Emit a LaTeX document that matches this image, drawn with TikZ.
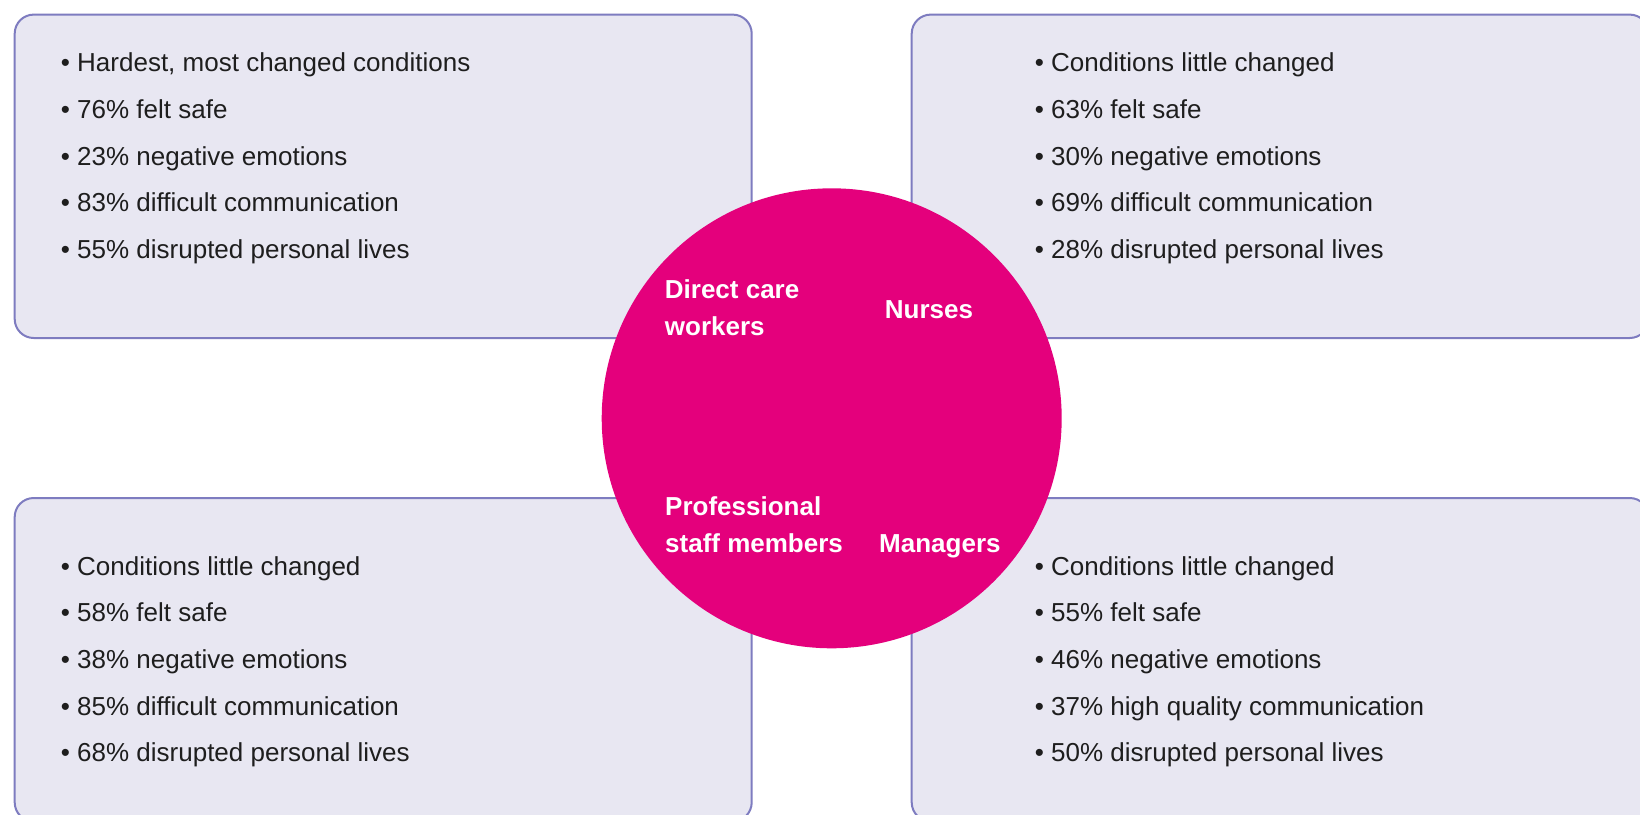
\documentclass[tikz,border=0pt]{standalone}
\usepackage{fontspec}
\setmainfont{Liberation Sans}
\definecolor{panelfill}{RGB}{232,231,242}
\definecolor{panelline}{RGB}{126,124,192}
\definecolor{hubfill}{RGB}{228,0,124}
\definecolor{ink}{RGB}{30,30,30}
\begin{document}
\begin{tikzpicture}[x=1pt,y=-1pt,
  panel/.style={draw=panelline, line width=2pt, fill=panelfill,
    rounded corners=19pt, minimum width=737pt, minimum height=323.4pt, inner sep=0pt},
  hub/.style={circle, fill=hubfill, minimum size=460pt, inner sep=0pt},
  facts/.style={anchor=base west, inner sep=0pt, text=ink,
    font=\fontsize{26}{46.67}\selectfont},
  role/.style={anchor=base west, inner sep=0pt, text=white,
    font=\fontsize{26}{37}\selectfont\bfseries}]
\useasboundingbox (0,0) rectangle (1640,814);
\fill[white] (0,0) rectangle (1640,814);
\clip (0,0) rectangle (1640,814);

% four panels around the centre
\node[panel] (ptl) at (383.2,176.3) {};
\node[panel] (ptr) at (1280.2,176.3) {};
\node[panel] (pbl) at (383.2,659.7) {};
\node[panel] (pbr) at (1280.2,659.7) {};

% centre disc
\node[hub] (hub) at (831.7,418.3) {};

% staff groups
\node[role] (dcw) at (664.7,298) {\begin{tabular}[t]{@{}l@{}}Direct care\\workers\end{tabular}};
\node[role] (nur) at (884.7,318) {Nurses};
\node[role] (pro) at (665,515) {\begin{tabular}[t]{@{}l@{}}Professional\\staff members\end{tabular}};
\node[role] (man) at (879,552) {Managers};

% facts per group
\node[facts] (ftl) at (60.7,71.7) {\begin{tabular}[t]{@{}l@{}}
• Hardest, most changed conditions\\
• 76\% felt safe\\
• 23\% negative emotions\\
• 83\% difficult communication\\
• 55\% disrupted personal lives\end{tabular}};
\node[facts] (ftr) at (1034.7,71.7) {\begin{tabular}[t]{@{}l@{}}
• Conditions little changed\\
• 63\% felt safe\\
• 30\% negative emotions\\
• 69\% difficult communication\\
• 28\% disrupted personal lives\end{tabular}};
\node[facts] (fbl) at (60.7,575) {\begin{tabular}[t]{@{}l@{}}
• Conditions little changed\\
• 58\% felt safe\\
• 38\% negative emotions\\
• 85\% difficult communication\\
• 68\% disrupted personal lives\end{tabular}};
\node[facts] (fbr) at (1034.7,575) {\begin{tabular}[t]{@{}l@{}}
• Conditions little changed\\
• 55\% felt safe\\
• 46\% negative emotions\\
• 37\% high quality communication\\
• 50\% disrupted personal lives\end{tabular}};
\end{tikzpicture}
\end{document}
